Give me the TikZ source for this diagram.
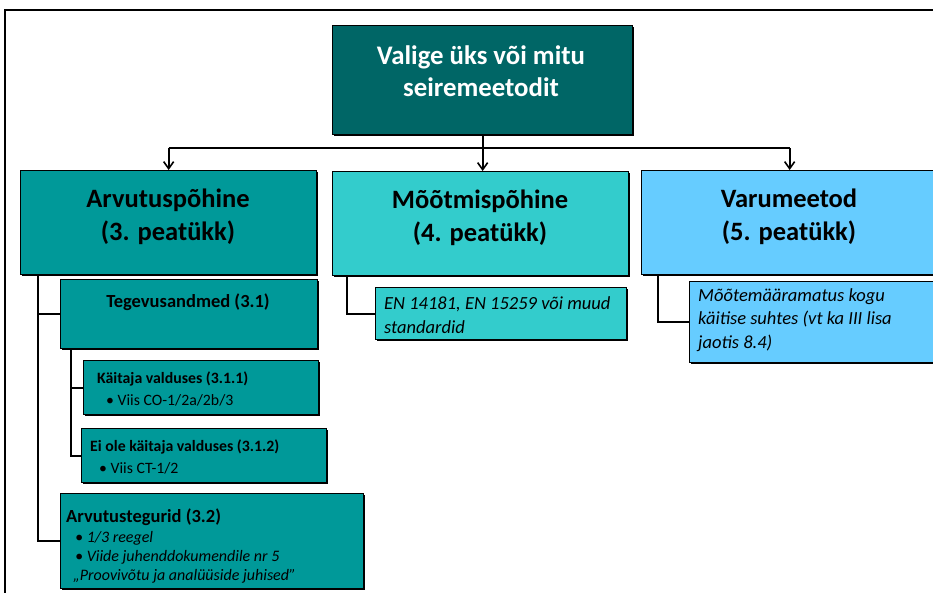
\documentclass[tikz,border=0pt]{standalone}
\usepackage{fontspec}
\setmainfont{Carlito}
\usetikzlibrary{arrows.meta,shadows}
\definecolor{cTop}{HTML}{006666}
\definecolor{cA}{HTML}{009999}
\definecolor{cM}{HTML}{33CCCC}
\definecolor{cV}{HTML}{66CCFF}
\tikzset{
  box/.style={draw=black, line width=1.3pt, anchor=north west, inner sep=0pt,
    drop shadow={shadow xshift=1.5pt, shadow yshift=-1.5pt, fill=black, opacity=1}},
  conn/.style={line width=2.1pt},
  arr/.style={line width=2.1pt, -{Straight Barb[length=7pt,width=10pt,line width=1.6pt]}},
  txt/.style={inner sep=0pt},
}
\begin{document}
\begin{tikzpicture}[x=1pt,y=-1pt]
\useasboundingbox (0,0) rectangle (933,592);
\clip (0,0) rectangle (933,592);
\fill[white] (0,0) rectangle (933,592);
% outer frame
\coordinate (fb) at (5,600);
\coordinate (ft) at (5,10);
\coordinate (fr) at (945,10);
\draw[line width=1.6pt] (fb) -- (ft) -- (fr);
% main boxes
\node[box, fill=cTop, minimum width=300pt, minimum height=109pt] (top) at (332,25) {};
\node[box, fill=cA, minimum width=296pt, minimum height=104pt] (A) at (20,170) {};
\node[box, fill=cM, minimum width=296pt, minimum height=104pt] (M) at (332,171) {};
\node[box, fill=cV, minimum width=296pt, minimum height=104pt] (V) at (641,170) {};
% sub boxes
\node[box, fill=cA, minimum width=257pt, minimum height=69pt] (T) at (60,279) {};
\node[box, fill=cA, minimum width=235pt, minimum height=54pt] (K) at (83,360) {};
\node[box, fill=cA, minimum width=245pt, minimum height=54pt] (E) at (81,428) {};
\node[box, fill=cA, minimum width=303pt, minimum height=95pt] (R) at (60,493) {};
\node[box, fill=cM, minimum width=251pt, minimum height=52pt] (EN) at (375,287) {};
\node[box, fill=cV, minimum width=270pt, minimum height=81pt] (U) at (689,281) {};
% texts
\node[txt, text=white, font=\bfseries\fontsize{26.8}{32}\selectfont, align=center] (topt) at (481,71) {Valige üks või mitu\\seiremeetodit};
\node[txt, font=\bfseries\fontsize{26.5}{33}\selectfont, align=center] (At) at (168,217) {Arvutuspõhine\\(3. peatükk)};
\node[txt, font=\bfseries\fontsize{26.5}{33}\selectfont, align=center] (Mt) at (480,218) {Mõõtmispõhine\\(4. peatükk)};
\node[txt, font=\bfseries\fontsize{26.5}{33}\selectfont, align=center] (Vt) at (789,217) {Varumeetod\\(5. peatükk)};
\node[txt, font=\bfseries\fontsize{18.5}{20}\selectfont] (Tt) at (188,302) {Tegevusandmed (3.1)};
\node[txt, anchor=west, font=\fontsize{15.8}{22}\selectfont, align=left] (Kt) at (97,389) {\textbf{Käitaja valduses (3.1.1)}\\\hspace*{9pt}• Viis CO-1/2a/2b/3};
\node[txt, anchor=west, font=\fontsize{15.8}{22}\selectfont, align=left] (Et) at (90,457) {\textbf{Ei ole käitaja valduses (3.1.2)}\\\hspace*{9pt}• Viis CT-1/2};
\node[txt, anchor=base west, font=\bfseries\fontsize{18.5}{20}\selectfont] (Rt) at (66,522) {Arvutustegurid (3.2)};
\node[txt, anchor=west, font=\itshape\fontsize{16}{19}\selectfont, align=left] (Rb) at (73,557) {\hspace*{2pt}• 1/3 reegel\\\hspace*{2pt}• Viide juhenddokumendile nr 5\\„Proovivõtu ja analüüside juhised”};
\node[txt, anchor=west, font=\itshape\fontsize{18.5}{24}\selectfont, align=left] (ENt) at (384,315) {EN 14181, EN 15259 või muud\\standardid};
\node[txt, anchor=west, font=\itshape\fontsize{18.5}{23.5}\selectfont, align=left] (Ut) at (698,320) {Mõõtemääramatus kogu\\käitise suhtes (vt ka III lisa\\jaotis 8.4)};
% top connectors
\coordinate (jA) at (A.north |- 0,148);
\coordinate (jV) at (V.north |- 0,148);
\coordinate (jM) at (M.north);
\draw[conn] (jA) -- (jV);
\draw[arr] (top.south) -- (top.south |- jM);
\draw[arr] (jA) -- (A.north);
\draw[arr] (jV) -- (V.north);
% tree connectors
\coordinate (a0) at ([xshift=18pt]A.south west);
\draw[conn] (a0) |- (T.west);
\draw[conn] (a0) |- (R.west);
\coordinate (t0) at ([xshift=11pt]T.south west);
\draw[conn] (t0) |- (K.west);
\draw[conn] (t0) |- (E.west);
\coordinate (m0) at ([xshift=15pt]M.south west);
\draw[conn] (m0) |- (EN.west);
\coordinate (v0) at ([xshift=17pt]V.south west);
\draw[conn] (v0) |- (U.west);
\end{tikzpicture}
\end{document}
